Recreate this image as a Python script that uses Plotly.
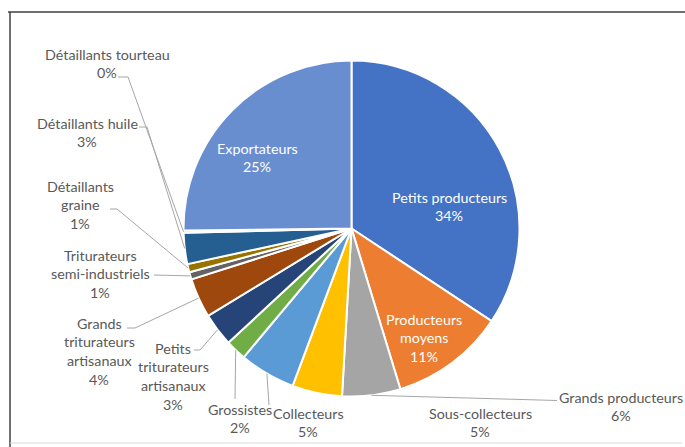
import math
import plotly.graph_objects as go

# Share of each actor in the value chain (%), clockwise from 12 o'clock
categories = [
    "Petits producteurs", "Producteurs moyens", "Grands producteurs",
    "Sous-collecteurs", "Collecteurs", "Grossistes",
    "Petits triturateurs artisanaux", "Grands triturateurs artisanaux",
    "Triturateurs semi-industriels", "Détaillants graine",
    "Détaillants huile", "Détaillants tourteau", "Exportateurs",
]
values = [34.3, 11.0, 5.6, 4.8, 5.4, 2.0, 3.2, 3.8, 0.7, 0.8, 3.0, 0.2, 25.2]
colors = [
    "#4472C4", "#ED7D31", "#A5A5A5", "#FFC000", "#5B9BD5", "#70AD47",
    "#264478", "#9E480E", "#636363", "#997300", "#255E91", "#43682B", "#698ED0",
]

# Line breaks used in the data labels
label_lines = {
    "Producteurs moyens": ["Producteurs", "moyens"],
    "Petits triturateurs artisanaux": ["Petits", "triturateurs", "artisanaux"],
    "Grands triturateurs artisanaux": ["Grands", "triturateurs", "artisanaux"],
    "Triturateurs semi-industriels": ["Triturateurs", "semi-industriels"],
    "Détaillants graine": ["Détaillants", "graine"],
}

W, H = 685, 447
CX, CY, R = 351.5, 228.5, 168.0   # pie centre / radius in pixels

# label placement: (centre x, first line y, inside?, leader-line anchor points)
label_layout = {
    "Petits producteurs": (449, 197, True, None),
    "Producteurs moyens": (424, 319, True, None),
    "Exportateurs": (257, 148, True, None),
    "Grands producteurs": (621, 397, False, [(557, 400.5)]),
    "Sous-collecteurs": (480, 413, False, None),
    "Collecteurs": (308, 413, False, [(269, 405)]),
    "Grossistes": (240, 409, False, [(235, 399)]),
    "Petits triturateurs artisanaux": (173, 348, False, [(194, 350), (200, 350)]),
    "Grands triturateurs artisanaux": (99, 323, False, [(127, 328), (135, 328)]),
    "Triturateurs semi-industriels": (100, 255, False, [(154, 275)]),
    "Détaillants graine": (80, 186, False, [(110, 209), (117, 209)]),
    "Détaillants huile": (87, 123, False, [(139, 127), (147, 127)]),
    "Détaillants tourteau": (107, 54, False, [(118, 77), (128, 77)]),
}
LINE_H = 18.8

fig = go.Figure()
fig.add_trace(go.Pie(
    labels=categories, values=values, sort=False, direction="clockwise",
    rotation=0, textinfo="none", hoverinfo="label+percent",
    marker=dict(colors=colors, line=dict(color="white", width=2)),
    domain=dict(x=[(CX - R) / W, (CX + R) / W],
                y=[(H - CY - R) / H, (H - CY + R) / H]),
    showlegend=False,
))

total = sum(values)
cum = 0.0
annotations, shapes = [], []
for cat, val in zip(categories, values):
    mid = (cum + val / 2) / total * 2 * math.pi
    cum += val
    rim = (CX + R * math.sin(mid), CY - R * math.cos(mid))
    x0, y0, inside, anchors = label_layout[cat]
    lines = label_lines.get(cat, [cat]) + [f"{round(val / total * 100)}%"]
    col = "white" if inside else "#595959"
    for i, t in enumerate(lines):
        annotations.append(dict(
            x=x0, y=y0 + i * LINE_H, xref="x", yref="y", text=t,
            showarrow=False, xanchor="center", yanchor="middle",
            font=dict(family="Lato", size=14.3, color=col),
        ))
    if anchors:
        pts = anchors + [rim]
        path = "M " + " L ".join(f"{px:.1f},{py:.1f}" for px, py in pts)
        shapes.append(dict(type="path", path=path, xref="x", yref="y",
                           line=dict(color="#A6A6A6", width=1), layer="above"))

# chart frame
shapes += [
    dict(type="line", x0=8, x1=W, y0=12, y1=12, xref="x", yref="y",
         line=dict(color="#404040", width=1.5)),
    dict(type="line", x0=10, x1=10, y0=12, y1=H, xref="x", yref="y",
         line=dict(color="#404040", width=1.5)),
    dict(type="line", x0=10, x1=682, y0=443, y1=443, xref="x", yref="y",
         line=dict(color="#D9D9D9", width=1)),
]

fig.update_layout(
    width=W, height=H, margin=dict(l=0, r=0, t=0, b=0),
    paper_bgcolor="white", plot_bgcolor="rgba(0,0,0,0)",
    xaxis=dict(range=[0, W], visible=False, fixedrange=True),
    yaxis=dict(range=[H, 0], visible=False, fixedrange=True),
    annotations=annotations, shapes=shapes,
)
fig.write_html("out.html")
